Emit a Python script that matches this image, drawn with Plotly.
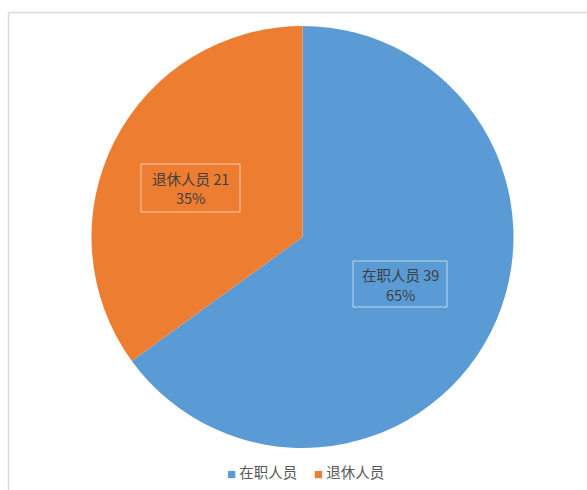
import plotly.graph_objects as go

categories = ["在职人员", "退休人员"]
values = [39, 21]
colors = ["#5B9BD5", "#ED7D31"]

W, H = 587, 490
cx, cy, r = 302.5, 237.0, 211.0

total = sum(values)
fig = go.Figure(go.Pie(
    labels=categories, values=values, sort=False, direction="clockwise", rotation=0,
    marker=dict(colors=colors, line=dict(width=0)),
    textinfo="none", hoverinfo="label+value+percent", showlegend=False,
    domain=dict(x=[(cx - r) / W, (cx + r) / W], y=[(H - cy - r) / H, (H - cy + r) / H]),
))

def px(x):
    return x / W

def py(y):
    return 1 - y / H

font_lbl = dict(family="Noto Sans CJK SC", size=14.5, color="#404040")
# label boxes: (x0, y0, x1, y1) in pixels from top-left
boxes = [(353, 261, 447, 307), (141, 164, 240, 212)]
for cat, v, (x0, y0, x1, y1) in zip(categories, values, boxes):
    fig.add_shape(type="rect", xref="paper", yref="paper",
                  x0=px(x0), x1=px(x1), y0=py(y1), y1=py(y0),
                  line=dict(color="rgba(255,255,255,0.6)", width=1))
    xc = (x0 + x1) / 2
    yc = (y0 + y1) / 2
    fig.add_annotation(x=px(xc), y=py(yc - 10), xref="paper", yref="paper", showarrow=False,
                       text=f"{cat} {v}", font=font_lbl, xanchor="center", yanchor="middle")
    fig.add_annotation(x=px(xc), y=py(yc + 10), xref="paper", yref="paper", showarrow=False,
                       text=f"{round(v / total * 100)}%", font=font_lbl, xanchor="center", yanchor="middle")

# legend drawn as text
legend_x = [262, 349]
for cat, col, lx in zip(categories, colors, legend_x):
    fig.add_annotation(x=px(lx), y=py(471), xref="paper", yref="paper", showarrow=False,
                       text=f"<span style='color:{col};font-size:9px'>■</span> {cat}",
                       font=dict(family="Noto Sans CJK SC", size=14.5, color="#595959"),
                       xanchor="center", yanchor="middle")

# chart frame
fig.add_shape(type="line", xref="paper", yref="paper", x0=px(8.5), x1=1, y0=py(12.5), y1=py(12.5),
              line=dict(color="#D9D9D9", width=1.5))
fig.add_shape(type="line", xref="paper", yref="paper", x0=px(8.5), x1=px(8.5), y0=0, y1=py(12.5),
              line=dict(color="#D9D9D9", width=1.5))

fig.update_layout(
    width=W, height=H, margin=dict(l=0, r=0, t=0, b=0),
    paper_bgcolor="white", plot_bgcolor="white",
    showlegend=False,
)

fig.write_html("out.html", config={"displayModeBar": False},
               post_script="document.body.style.margin='0';")
